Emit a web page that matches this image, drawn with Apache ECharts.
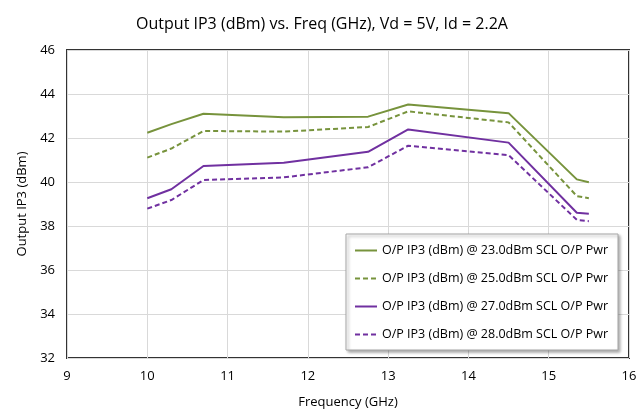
<!DOCTYPE html>
<html><head><meta charset="utf-8">
<script src="https://cdn.jsdelivr.net/npm/echarts@6/dist/echarts.min.js"></script>
<style>html,body{margin:0;padding:0;background:#fff}#c{width:644px;height:414px}</style>
</head><body><div id="c"></div>
<script>
const freqs = [10.0, 10.3, 10.7, 11.7, 12.75, 13.25, 14.5, 15.35, 15.5];
const s23 = [42.24, 42.63, 43.10, 42.94, 42.97, 43.52, 43.13, 40.12, 39.99];
const s25 = [41.11, 41.52, 42.32, 42.29, 42.50, 43.21, 42.71, 39.36, 39.26];
const s27 = [39.26, 39.67, 40.73, 40.87, 41.37, 42.39, 41.79, 38.60, 38.56];
const s28 = [38.79, 39.18, 40.09, 40.21, 40.67, 41.65, 41.22, 38.28, 38.22];
const names = [
  'O/P IP3 (dBm) @ 23.0dBm SCL O/P Pwr',
  'O/P IP3 (dBm) @ 25.0dBm SCL O/P Pwr',
  'O/P IP3 (dBm) @ 27.0dBm SCL O/P Pwr',
  'O/P IP3 (dBm) @ 28.0dBm SCL O/P Pwr'
];
const green = '#77933C', purple = '#7030A0';
const font = 'Open Sans';
function mk(name, vals, color, type) {
  return {
    name: name, type: 'line', symbol: 'none',
    data: freqs.map((f, i) => [f, vals[i]]),
    lineStyle: { color: color, width: 2, type: type === 'dashed' ? [5, 3] : 'solid' },
    itemStyle: { color: color },
    emphasis: { disabled: true }
  };
}
const chart = echarts.init(document.getElementById('c'));
chart.setOption({
  animation: false,
  textStyle: { fontFamily: font },
  title: {
    text: 'Output IP3 (dBm) vs. Freq (GHz), Vd = 5V, Id = 2.2A',
    left: 'center', top: 11,
    textStyle: { fontFamily: font, fontSize: 16, fontWeight: 'normal', color: '#000' }
  },
  grid: { left: 67, right: 15, top: 50, bottom: 55, show: true, borderColor: '#333', borderWidth: 2, backgroundColor: 'transparent' },
  xAxis: {
    type: 'value', min: 9, max: 16, interval: 1,
    name: 'Frequency (GHz)', nameLocation: 'middle', nameGap: 38,
    nameTextStyle: { fontFamily: font, fontSize: 13, color: '#000' },
    axisLine: { show: false }, axisTick: { show: false },
    axisLabel: { fontFamily: font, fontSize: 13, color: '#000', margin: 12 },
    splitLine: { show: true, lineStyle: { color: '#d9d9d9', width: 1 } }
  },
  yAxis: {
    type: 'value', min: 32, max: 46, interval: 2,
    name: 'Output IP3 (dBm)', nameLocation: 'middle', nameGap: 31,
    nameTextStyle: { fontFamily: font, fontSize: 13, color: '#000' },
    axisLine: { show: false }, axisTick: { show: false },
    axisLabel: { fontFamily: font, fontSize: 13, color: '#000', margin: 12 },
    splitLine: { show: true, lineStyle: { color: '#d9d9d9', width: 1 } }
  },
  legend: {
    orient: 'vertical', right: 26, bottom: 64,
    data: names,
    itemWidth: 22, itemHeight: 10, itemGap: 15,
    padding: [10, 10, 9, 8],
    backgroundColor: '#fff', borderColor: '#a6a6a6', borderWidth: 1,
    shadowColor: 'rgba(0,0,0,0.35)', shadowBlur: 3, shadowOffsetX: 2, shadowOffsetY: 2,
    itemStyle: { opacity: 0 },
    textStyle: { fontFamily: font, fontSize: 12.5, color: '#000' }
  },
  series: [
    mk(names[0], s23, green, 'solid'),
    mk(names[1], s25, green, 'dashed'),
    mk(names[2], s27, purple, 'solid'),
    mk(names[3], s28, purple, 'dashed')
  ]
});
</script></body></html>
